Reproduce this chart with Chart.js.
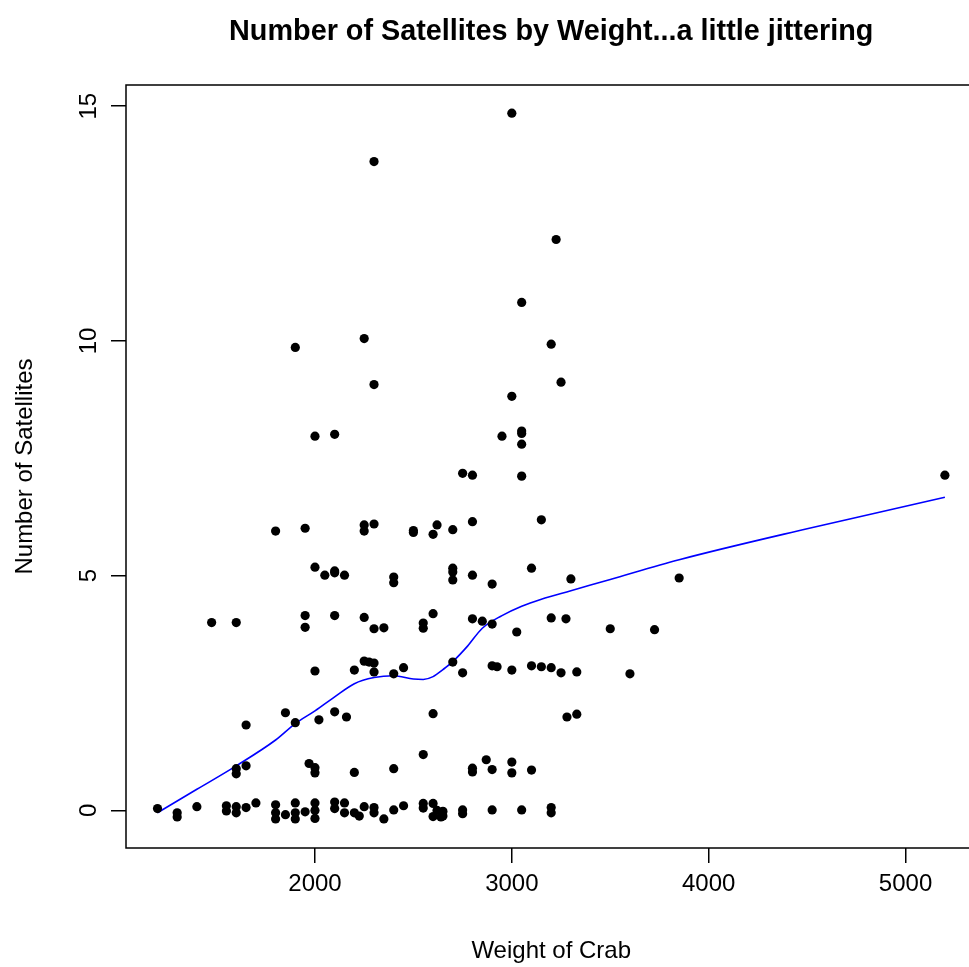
<!DOCTYPE html>
<html>
<head>
<meta charset="utf-8">
<script src="https://cdn.jsdelivr.net/npm/chart.js@4/dist/chart.umd.min.js"></script>
<style>
  html, body { margin: 0; padding: 0; background: #fff; overflow: hidden; }
  #Frame { width: 969px; height: 967px; overflow: hidden; position: relative; }
  canvas { display: block; }
</style>
</head>
<body>
<!-- the plot box of the original runs a few pixels past the right edge -->
<div id="Frame"><canvas id="CrabChart" width="981" height="967"></canvas></div>
<script>
var weights = [
    3000, 2300, 3225, 3050, 2250, 1900, 3200, 2300, 3250, 3000,
    2000, 2100, 2950, 3050, 3050, 3050, 2750, 2800, 3050, 5200,
    1800, 1950, 2250, 2250, 2300, 2500, 2500, 2620, 2600, 2700, 2800, 3150,
    2000, 2050, 2100, 2100, 2150, 2400, 2400, 2700, 2700, 2700, 2800, 2900, 3100, 3300, 3850,
    1475, 1600, 1950, 1950, 2100, 2250, 2300, 2350, 2600, 2550, 2550, 2800, 2850, 2900, 3025, 3200, 3275, 3500, 3725,
    2000, 2200, 2250, 2275, 2300, 2300, 2400, 2450, 2700, 2750, 2900, 2925, 3000, 3100, 3150, 3200, 3250, 3330, 3600,
    1650, 1850, 1900, 2020, 2100, 2160, 2600, 3280, 3330,
    1600, 1600, 1650, 1970, 2000, 2000, 2200, 2400, 2550, 2800, 2800, 2870, 2900, 3000, 3000, 3100,
    1200, 1300, 1300, 1400, 1550, 1550, 1600, 1600, 1650, 1700, 1800, 1800, 1800, 1850, 1900, 1900,
    1900, 1950, 2000, 2000, 2000, 2100, 2100, 2150, 2150, 2200, 2225, 2250, 2300, 2300, 2350, 2400,
    2450, 2550, 2550, 2600, 2600, 2620, 2650, 2650, 2640, 2750, 2750, 2900, 3050, 3200, 3200
];
var satellites = [
    14.85, 13.82, 12.16, 10.82, 10.05, 9.86, 9.93, 9.07, 9.12, 8.82,
    7.97, 8.01, 7.97, 8.08, 8.03, 7.80, 7.18, 7.14, 7.12, 7.14,
    5.95, 6.01, 6.08, 5.95, 6.10, 5.96, 5.92, 6.08, 5.88, 5.98, 6.15, 6.19,
    5.18, 5.01, 5.10, 5.06, 5.01, 4.97, 4.85, 5.16, 5.08, 4.91, 5.01, 4.82, 5.16, 4.93, 4.95,
    4.00, 4.00, 4.15, 3.90, 4.15, 4.11, 3.87, 3.89, 4.19, 3.99, 3.88, 4.08, 4.03, 3.97, 3.80, 4.10, 4.08, 3.87, 3.85,
    2.97, 2.99, 3.18, 3.16, 3.14, 2.95, 2.91, 3.04, 3.16, 2.93, 3.08, 3.06, 2.99, 3.08, 3.06, 3.04, 2.93, 2.95, 2.91,
    1.82, 2.08, 1.87, 1.93, 2.10, 1.99, 2.06, 1.99, 2.05,
    0.89, 0.78, 0.95, 1.00, 0.91, 0.80, 0.81, 0.89, 1.19, 0.90, 0.82, 1.08, 0.87, 1.03, 0.80, 0.86,
    0.04, -0.05, -0.14, 0.08, 0.10, -0.01, 0.08, -0.05, 0.06, 0.16, 0.12, -0.05, -0.18, -0.09, 0.16, -0.05,
    -0.18, -0.03, 0.16, 0.00, -0.17, 0.18, 0.04, 0.16, -0.05, -0.05, -0.12, 0.08, 0.06, -0.05, -0.18, 0.01,
    0.10, 0.15, 0.05, 0.15, -0.13, 0.00, -0.02, -0.12, -0.14, 0.01, -0.07, 0.01, 0.01, 0.06, -0.05
];

// lowess fit
var curveWeight = [1200, 1400, 1600, 1800, 1900, 2000, 2100, 2200, 2300, 2400, 2500, 2550, 2600, 2650, 2700, 2775, 2850, 2950, 3050, 3150, 3300, 3500, 3850, 4500, 5200];
var curveSatellites = [-0.05, 0.45, 0.95, 1.5, 1.85, 2.12, 2.42, 2.7, 2.83, 2.87, 2.8, 2.79, 2.85, 3.0, 3.17, 3.5, 3.88, 4.15, 4.35, 4.5, 4.68, 4.92, 5.34, 6.0, 6.67];

var xTicks = [2000, 3000, 4000, 5000];
var yTicks = [0, 5, 10, 15];

var FONT = "'Liberation Sans', Arial, Helvetica, sans-serif";

// R-style box, title and tick labels (y labels read bottom-to-top)
var boxAndLabels = {
    id: 'boxAndLabels',
    afterDraw: function (chart) {
        var ctx = chart.ctx, a = chart.chartArea, x = chart.scales.x, y = chart.scales.y;
        ctx.save();
        ctx.strokeStyle = '#000';
        ctx.lineWidth = 1.5;
        ctx.strokeRect(a.left, a.top, a.right - a.left, a.bottom - a.top);

        ctx.fillStyle = '#000';
        ctx.textAlign = 'center';
        ctx.textBaseline = 'middle';
        ctx.font = 'bold 28.8px ' + FONT;
        ctx.fillText('Number of Satellites by Weight...a little jittering', (a.left + a.right) / 2, 32);

        ctx.font = '24px ' + FONT;
        xTicks.forEach(function (v) {
            ctx.fillText(String(v), x.getPixelForValue(v), 884);
        });
        yTicks.forEach(function (v) {
            ctx.save();
            ctx.translate(89, y.getPixelForValue(v));
            ctx.rotate(-Math.PI / 2);
            ctx.fillText(String(v), 0, 0);
            ctx.restore();
        });
        ctx.restore();
    }
};

new Chart(document.getElementById('CrabChart'), {
    type: 'scatter',
    data: {
        datasets: [{
            data: weights.map(function (w, i) { return { x: w, y: satellites[i] }; }),
            backgroundColor: '#000',
            borderWidth: 0,
            pointRadius: 4.6,
            pointHoverRadius: 4.6
        }, {
            data: curveWeight.map(function (w, i) { return { x: w, y: curveSatellites[i] }; }),
            showLine: true,
            borderColor: '#0000ff',
            borderWidth: 1.6,
            pointRadius: 0,
            cubicInterpolationMode: 'monotone'
        }]
    },
    options: {
        responsive: false,
        animation: false,
        events: [],
        layout: { padding: { left: 0, right: 0, top: 85, bottom: 0 } },
        plugins: { legend: { display: false }, tooltip: { enabled: false } },
        scales: {
            x: {
                type: 'linear',
                min: 1040, max: 5360,
                afterFit: function (s) { s.height = 119; s.paddingLeft = 0; s.paddingRight = 0; },
                afterBuildTicks: function (s) { s.ticks = xTicks.map(function (v) { return { value: v }; }); },
                grid: { drawOnChartArea: false, drawTicks: true, tickLength: 15, color: '#000', lineWidth: 1.5 },
                border: { display: false },
                ticks: { display: false },
                title: { display: true, text: 'Weight of Crab', color: '#000', padding: { top: 0, bottom: 1 }, font: { family: FONT, size: 24 } }
            },
            y: {
                type: 'linear',
                min: -0.8, max: 15.45,
                afterFit: function (s) { s.width = 126; },
                afterBuildTicks: function (s) { s.ticks = yTicks.map(function (v) { return { value: v }; }); },
                grid: { drawOnChartArea: false, drawTicks: true, tickLength: 15, color: '#000', lineWidth: 1.5 },
                border: { display: false },
                ticks: { display: false },
                title: { display: true, text: 'Number of Satellites', color: '#000', padding: { top: 11, bottom: 0 }, font: { family: FONT, size: 24 } }
            }
        }
    },
    plugins: [boxAndLabels]
});
</script>
</body>
</html>
